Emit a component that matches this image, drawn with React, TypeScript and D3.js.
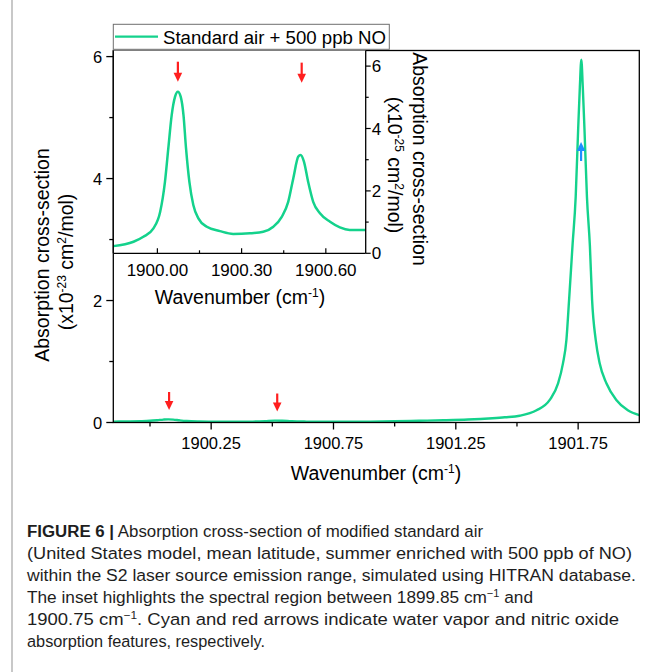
import React from "react";
import * as d3 from "d3";

// ---------- data ----------
// Main panel: wavenumber (cm-1) and absorption cross-section (x10^-23 cm2/mol)
const mainWavenumber = [
  1899.85, 1899.9, 1899.96, 1900.0, 1900.03, 1900.055, 1900.075, 1900.095, 1900.12, 1900.15,
  1900.2, 1900.28, 1900.35, 1900.42, 1900.47, 1900.51, 1900.54, 1900.58, 1900.64, 1900.74,
  1900.9, 1901.0, 1901.1, 1901.2, 1901.3, 1901.4, 1901.45, 1901.511, 1901.58, 1901.634,
  1901.668, 1901.688, 1901.702, 1901.713, 1901.727, 1901.74, 1901.75, 1901.757, 1901.763,
  1901.769, 1901.776, 1901.786, 1901.798, 1901.807, 1901.822, 1901.838, 1901.866, 1901.906,
  1901.953, 1902.0,
];
const mainCrossSection = [
  0.015, 0.018, 0.022, 0.028, 0.038, 0.048, 0.052, 0.048, 0.036, 0.024,
  0.016, 0.012, 0.012, 0.015, 0.022, 0.031, 0.028, 0.02, 0.015, 0.012,
  0.015, 0.02, 0.028, 0.036, 0.048, 0.07, 0.085, 0.11, 0.2, 0.37,
  0.64, 0.97, 1.35, 2.01, 2.9, 3.7, 4.8, 5.5, 5.95,
  5.5, 4.8, 3.7, 2.9, 2.01, 1.35, 0.97, 0.64, 0.37,
  0.2, 0.12,
];

// Inset: wavenumber (cm-1) and absorption cross-section (x10^-25 cm2/mol)
const insetWavenumber = [
  1899.843, 1899.915, 1899.95, 1899.986, 1900.01, 1900.027, 1900.039, 1900.051, 1900.063, 1900.073,
  1900.083, 1900.093, 1900.102, 1900.114, 1900.128, 1900.146, 1900.176, 1900.223, 1900.27, 1900.33,
  1900.377, 1900.413, 1900.443, 1900.466, 1900.484, 1900.502, 1900.51, 1900.522, 1900.537, 1900.555,
  1900.579, 1900.615, 1900.65, 1900.685, 1900.742,
];
const insetCrossSection = [
  0.23, 0.37, 0.53, 0.8, 1.33, 2.29, 3.37, 4.43, 5.02, 5.18,
  5.02, 4.43, 3.37, 2.29, 1.55, 1.12, 0.85, 0.71, 0.62, 0.64,
  0.69, 0.85, 1.17, 1.65, 2.4, 3.1, 3.15, 2.94, 2.29, 1.65,
  1.28, 1.01, 0.83, 0.75, 0.75,
];

const mainXTicks = [1900.25, 1900.75, 1901.25, 1901.75];
const mainXMinor = [1900.0, 1900.5, 1901.0, 1901.5];
const mainYTicks = [0, 2, 4, 6];
const mainYMinor = [1, 3, 5];
const insetXTicks = [1900.0, 1900.3, 1900.6];
const insetXMinor = [1900.15, 1900.45];
const insetYTicks = [0, 2, 4, 6];
const insetYMinor = [1, 3, 5];

// arrow tips, in data units
const noArrowsMainW = [1900.078, 1900.52];
const noArrowsMainV = [0.205, 0.18];
const waterArrowMainW = [1901.762];
const waterArrowMainV = [4.6];
const noArrowsInsetW = [1900.073, 1900.514];
const noArrowsInsetV = [5.5, 5.47];

const legendLabel = "Standard air + 500 ppb NO";
const captionLines = [
  "Absorption cross-section of modified standard air",
  "(United States model, mean latitude, summer enriched with 500 ppb of NO)",
  "within the S2 laser source emission range, simulated using HITRAN database.",
];

const GREEN = "#14d28c";
const RED = "#ff1f1f";
const BLUE = "#1e8fff";
const FONT = "'Liberation Sans', Arial, sans-serif";

function Arrow({ x, y, dir, len, color }: { x: number; y: number; dir: "down" | "up"; len: number; color: string }) {
  const s = dir === "down" ? -1 : 1; // tail offset sign
  const head = 9;
  const hw = 4.3;
  const baseY = y + s * head;
  return (
    <g>
      <line x1={x} y1={y + s * len} x2={x} y2={baseY + s * -1} stroke={color} strokeWidth={2.2} />
      <polygon points={`${x - hw},${baseY} ${x + hw},${baseY} ${x},${y}`} fill={color} />
    </g>
  );
}

export default function App() {
  const L = 113.3, R = 639.3, T = 50.5, B = 422.5;
  const iR = 365.7, iB = 253.3;
  const x = d3.scaleLinear().domain([1899.85, 1902.0]).range([L, R]);
  const y = d3.scaleLinear().domain([0, 6.1]).range([B, T]);
  const xi = d3.scaleLinear().domain([1899.843, 1900.742]).range([L, iR]);
  const yi = d3.scaleLinear().domain([0, 6.5]).range([iB, T]);

  const mainPts = mainWavenumber.map((w, i) => [w, mainCrossSection[i]] as [number, number]);
  const insetPts = insetWavenumber.map((w, i) => [w, insetCrossSection[i]] as [number, number]);
  const mainLine = d3.line<[number, number]>().x((d) => x(d[0])).y((d) => y(d[1])).curve(d3.curveMonotoneX);
  const insetLine = d3.line<[number, number]>().x((d) => xi(d[0])).y((d) => yi(d[1])).curve(d3.curveMonotoneX);

  const tickFont = 16.5;
  const titleFont = 19.5;

  return (
    <svg width={651} height={672} style={{ position: "absolute", left: 0, top: 0, background: "#fff" }} fontFamily={FONT}>
      <rect x={0} y={0} width={651} height={672} fill="#fff" />
      <line x1={12} y1={0} x2={12} y2={672} stroke="#c8c8c8" strokeWidth={2} />

      <defs>
        <clipPath id="mainclip">
          <rect x={L} y={T} width={R - L} height={B - T} />
        </clipPath>
        <clipPath id="insetclip">
          <rect x={L} y={T} width={iR - L} height={iB - T} />
        </clipPath>
      </defs>

      {/* main curve */}
      <path d={mainLine(mainPts) || ""} fill="none" stroke={GREEN} strokeWidth={2.4} clipPath="url(#mainclip)" />

      {/* main frame */}
      <rect x={L} y={T} width={R - L} height={B - T} fill="none" stroke="#000" strokeWidth={1.3} />

      {/* main x ticks */}
      {mainXTicks.map((t) => (
        <g key={"mx" + t}>
          <line x1={x(t)} x2={x(t)} y1={B} y2={B + 7} stroke="#000" strokeWidth={1.3} />
          <text x={x(t)} y={B + 26} fontSize={tickFont} textAnchor="middle">{t.toFixed(2)}</text>
        </g>
      ))}
      {mainXMinor.map((t) => (
        <line key={"mxm" + t} x1={x(t)} x2={x(t)} y1={B} y2={B + 4} stroke="#000" strokeWidth={1.3} />
      ))}
      {/* main y ticks */}
      {mainYTicks.map((t) => (
        <g key={"my" + t}>
          <line x1={L - 7} x2={L} y1={y(t)} y2={y(t)} stroke="#000" strokeWidth={1.3} />
          <text x={L - 11} y={y(t) + 6} fontSize={tickFont} textAnchor="end">{t}</text>
        </g>
      ))}
      {mainYMinor.map((t) => (
        <line key={"mym" + t} x1={L - 4} x2={L} y1={y(t)} y2={y(t)} stroke="#000" strokeWidth={1.3} />
      ))}

      {/* main axis titles */}
      <text x={376} y={480} fontSize={titleFont} textAnchor="middle">
        Wavenumber (cm<tspan dy={-7} fontSize={12}>-1</tspan><tspan dy={7}>)</tspan>
      </text>
      <g transform="translate(48.5,255) rotate(-90)">
        <text x={0} y={0} fontSize={titleFont} textAnchor="middle">Absorption cross-section</text>
      </g>
      <g transform="translate(73,262) rotate(-90)">
        <text x={0} y={0} fontSize={titleFont} textAnchor="middle">
          (x10<tspan dy={-7} fontSize={12}>-23</tspan><tspan dy={7}> cm</tspan><tspan dy={-7} fontSize={12}>2</tspan><tspan dy={7}>/mol)</tspan>
        </text>
      </g>

      {/* main arrows */}
      {noArrowsMainW.map((w, i) => (
        <Arrow key={"na" + i} x={x(w)} y={y(noArrowsMainV[i])} dir="down" len={18} color={RED} />
      ))}
      {waterArrowMainW.map((w, i) => (
        <Arrow key={"wa" + i} x={x(w)} y={y(waterArrowMainV[i])} dir="up" len={19} color={BLUE} />
      ))}

      {/* inset */}
      <rect x={L} y={T} width={iR - L} height={iB - T} fill="#fff" />
      <path d={insetLine(insetPts) || ""} fill="none" stroke={GREEN} strokeWidth={2.5} clipPath="url(#insetclip)" />
      <line x1={L} x2={iR} y1={iB} y2={iB} stroke="#000" strokeWidth={1.3} />
      <line x1={iR} x2={iR} y1={T} y2={iB} stroke="#000" strokeWidth={1.3} />
      <line x1={L} x2={L} y1={T} y2={iB} stroke="#000" strokeWidth={1.3} />
      {insetXTicks.map((t) => (
        <g key={"ix" + t}>
          <line x1={xi(t)} x2={xi(t)} y1={iB} y2={iB - 5} stroke="#000" strokeWidth={1.2} />
          <text x={xi(t)} y={iB + 23} fontSize={17} textAnchor="middle">{t.toFixed(2)}</text>
        </g>
      ))}
      {insetXMinor.map((t) => (
        <line key={"ixm" + t} x1={xi(t)} x2={xi(t)} y1={iB} y2={iB - 3} stroke="#000" strokeWidth={1.2} />
      ))}
      {insetYTicks.map((t) => (
        <g key={"iy" + t}>
          <line x1={iR} x2={iR + 5} y1={yi(t)} y2={yi(t)} stroke="#000" strokeWidth={1.2} />
          <text x={iR + 6} y={yi(t) + 6} fontSize={17} textAnchor="start">{t}</text>
        </g>
      ))}
      {insetYMinor.map((t) => (
        <line key={"iym" + t} x1={iR} x2={iR + 3} y1={yi(t)} y2={yi(t)} stroke="#000" strokeWidth={1.2} />
      ))}
      <text x={240} y={304} fontSize={titleFont} textAnchor="middle">
        Wavenumber (cm<tspan dy={-7} fontSize={12}>-1</tspan><tspan dy={7}>)</tspan>
      </text>
      <g transform="translate(413,159) rotate(90)">
        <text x={0} y={0} fontSize={titleFont} textAnchor="middle">Absorption cross-section</text>
      </g>
      <g transform="translate(388,165) rotate(90)">
        <text x={0} y={0} fontSize={titleFont} textAnchor="middle">
          (x10<tspan dy={-7} fontSize={12}>-25</tspan><tspan dy={7}> cm</tspan><tspan dy={-7} fontSize={12}>2</tspan><tspan dy={7}>/mol)</tspan>
        </text>
      </g>
      {noArrowsInsetW.map((w, i) => (
        <Arrow key={"ia" + i} x={xi(w)} y={yi(noArrowsInsetV[i])} dir="down" len={20} color={RED} />
      ))}

      {/* legend */}
      <rect x={L} y={24.3} width={276} height={25} fill="#fff" stroke="#6e6e6e" strokeWidth={1} />
      <line x1={115} x2={158} y1={36.7} y2={36.7} stroke={GREEN} strokeWidth={2.2} />
      <text x={163} y={43.5} fontSize={18} textLength={223} lengthAdjust="spacingAndGlyphs">{legendLabel}</text>

      {/* caption */}
      <g fontSize={17.2} fill="#1e1e1e">
        <text x={27} y={537} textLength={456} lengthAdjust="spacingAndGlyphs">
          <tspan fontWeight="bold">FIGURE 6 |</tspan> {captionLines[0]}
        </text>
        <text x={27} y={559} textLength={605} lengthAdjust="spacingAndGlyphs">{captionLines[1]}</text>
        <text x={27} y={581} textLength={609} lengthAdjust="spacingAndGlyphs">{captionLines[2]}</text>
        <text x={27} y={603} textLength={506} lengthAdjust="spacingAndGlyphs">
          The inset highlights the spectral region between 1899.85 cm<tspan dy={-6} fontSize={11}>−1</tspan><tspan dy={6}> and</tspan>
        </text>
        <text x={27} y={625} textLength={592} lengthAdjust="spacingAndGlyphs">
          1900.75 cm<tspan dy={-6} fontSize={11}>−1</tspan><tspan dy={6}>. Cyan and red arrows indicate water vapor and nitric oxide</tspan>
        </text>
        <text x={27} y={647} textLength={238} lengthAdjust="spacingAndGlyphs">absorption features, respectively.</text>
      </g>
    </svg>
  );
}
